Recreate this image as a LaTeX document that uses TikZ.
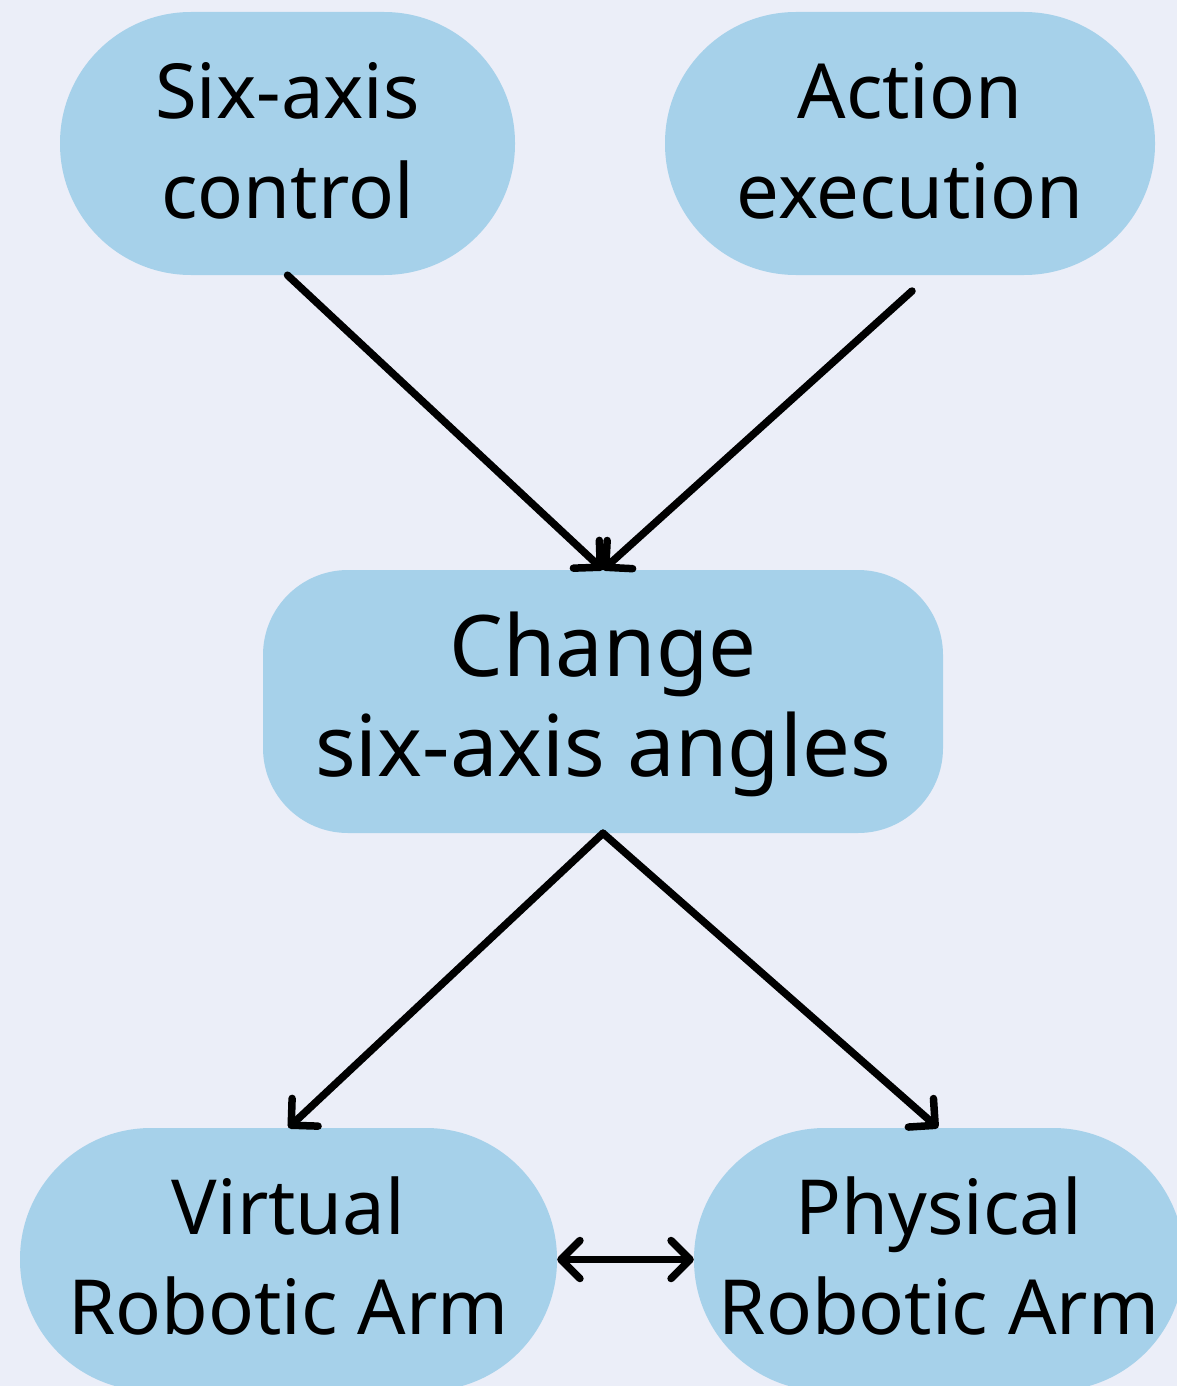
\documentclass[tikz,border=0pt]{standalone}
\usepackage{fontspec}
\setmainfont{Noto Sans}
\usetikzlibrary{arrows.meta}
\definecolor{bgcol}{HTML}{EBEEF8}
\definecolor{boxcol}{HTML}{A6D1EA}
% two centred lines, 100pt apart, set slightly below the box centre
\newcommand{\twolines}[2]{\raisebox{-4.5pt}[\height][\depth]{\begin{tabular}{@{}c@{}}#1\\#2\end{tabular}}}
\tikzset{
  box/.style={fill=boxcol, draw=none, inner sep=0pt,
    minimum height=263pt, font=\fontsize{76}{100}\selectfont},
  pill/.style={box, rounded corners=131pt},
  rbox/.style={box, rounded corners=85pt},
  conn/.style={line width=7.5pt, line cap=round, line join=round, -{Straight Barb[length=19pt, width=38pt, line cap=round, line join=round]}},
  both/.style={line width=7.5pt, line cap=round, line join=round,
    {Straight Barb[length=19pt, width=38pt, line cap=round, line join=round]}-{Straight Barb[length=19pt, width=38pt, line cap=round, line join=round]}}
}
\begin{document}
\begin{tikzpicture}[x=1pt, y=-1pt]
  \clip (0,0) rectangle (1177,1386);
  \fill[bgcol] (0,0) rectangle (1177,1386);

  \node[pill, minimum width=455pt] (sixaxis) at (287.5,143.5) {\twolines{Six-axis}{control}};
  \node[pill, minimum width=490pt] (action) at (910,143.5) {\twolines{Action}{execution}};
  \node[rbox, minimum width=680pt, font=\fontsize{85}{100}\selectfont] (change) at (603,701.5) {\twolines{Change}{six-axis angles}};
  \node[pill, minimum width=537pt] (virtual) at (288.5,1259.5) {\twolines{Virtual}{Robotic Arm}};
  \node[pill, minimum width=490pt] (physical) at (939,1259.5) {\twolines{Physical}{Robotic Arm}};

  \coordinate (acttail) at (912,291);
  \draw[conn] (sixaxis.south) -- (change.north);
  \draw[conn] (acttail) -- (change.north);
  \draw[conn] (change.south) -- (virtual.north);
  \draw[conn] (change.south) -- ([xshift=-1pt]physical.north);
  \draw[both] (virtual.east) -- (physical.west);
\end{tikzpicture}
\end{document}
